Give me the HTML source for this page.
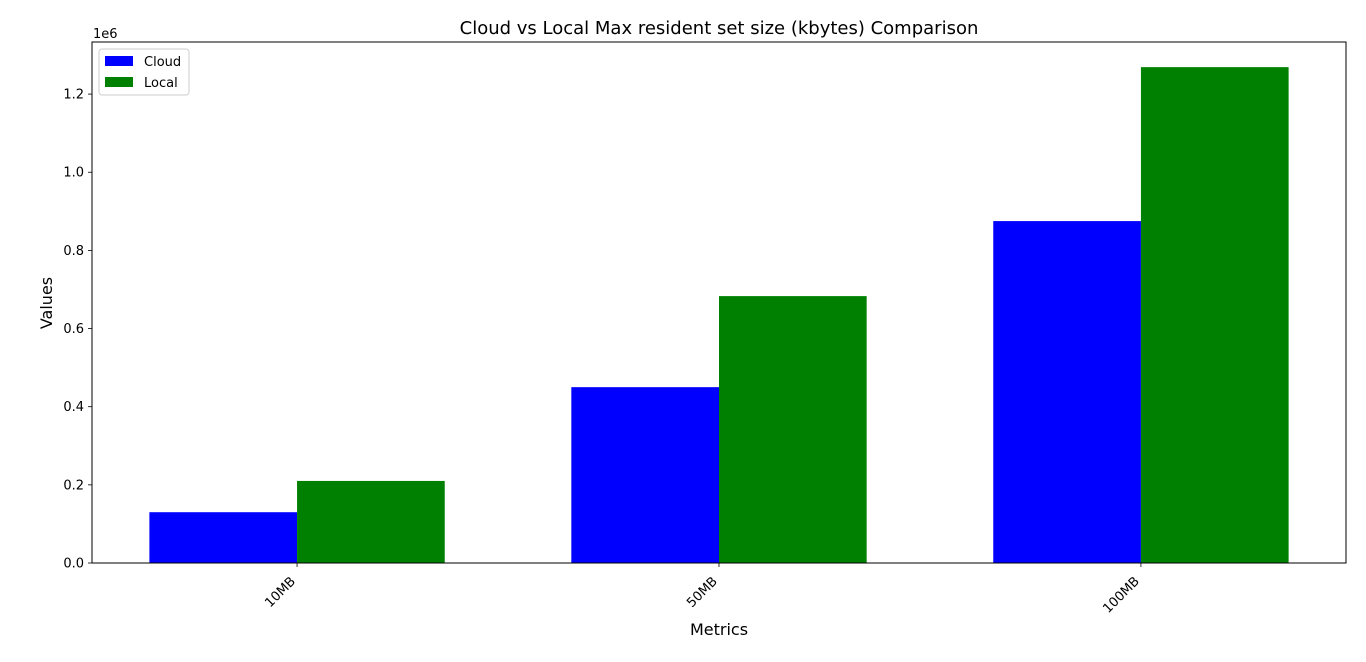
<!DOCTYPE html>
<html><head><meta charset="utf-8"><style>
html,body{margin:0;padding:0;background:#fff;width:1366px;height:662px;overflow:hidden}
text{font-family:"DejaVu Sans","Liberation Sans",sans-serif;fill:#000}
</style></head><body>
<svg id="chart" width="1366" height="662" xmlns="http://www.w3.org/2000/svg"></svg>
<script>
const categories = ["10MB","50MB","100MB"];
const cloudValues = [130000, 450000, 875000];
const localValues = [210000, 683000, 1269000];
const yTicks = [0, 0.2, 0.4, 0.6, 0.8, 1.0, 1.2];
const yTickLabels = ["0.0","0.2","0.4","0.6","0.8","1.0","1.2"];

const svg = document.getElementById('chart');
const NS = "http://www.w3.org/2000/svg";
const L=92,R=1346,T=42,B=563;
const yMax=1.3333e6, xMin=-0.486, xMax=2.486, bw=0.35;
function X(v){return L+(v-xMin)/(xMax-xMin)*(R-L);}
function Y(v){return B-v/yMax*(B-T);}
function mk(tag,attrs,parent){const e=document.createElementNS(NS,tag);for(const k in attrs)e.setAttribute(k,attrs[k]);(parent||svg).appendChild(e);return e;}

categories.forEach((c,i)=>{
  let r=mk('rect',{x:X(i-bw),y:Y(cloudValues[i]),width:X(i)-X(i-bw),height:B-Y(cloudValues[i]),fill:'#0000ff'});
  
  
  r=mk('rect',{x:X(i),y:Y(localValues[i]),width:X(i+bw)-X(i),height:B-Y(localValues[i]),fill:'#008000'});
  
  
  mk('line',{x1:X(i),x2:X(i),y1:B,y2:B+4,stroke:'#000','stroke-width':0.8});
  const t=mk('text',{x:0,y:0,'font-size':13,'text-anchor':'end',transform:`translate(${X(i)-1},${B+19}) rotate(-45)`});
  t.textContent=c;
  
  
});
yTicks.forEach((v,i)=>{
  const y=Y(v*1e6);
  mk('line',{x1:L-4,x2:L,y1:y,y2:y,stroke:'#000','stroke-width':0.8});
  const t=mk('text',{x:L-8,y:y+4.5,'font-size':13,'text-anchor':'end'});
  t.textContent=yTickLabels[i];
  
  
});
mk('rect',{x:L,y:T,width:R-L,height:B-T,fill:'none',stroke:'#000','stroke-width':1});
</script>
<svg style="position:absolute;left:0;top:0" width="1366" height="662" xmlns="http://www.w3.org/2000/svg">
<text x="719" y="34" font-size="18" text-anchor="middle">Cloud vs Local Max resident set size (kbytes) Comparison</text>
<text x="93" y="38" font-size="13">1e6</text>
<text x="719" y="635" font-size="16" text-anchor="middle">Metrics</text>
<text x="0" y="0" font-size="16" text-anchor="middle" transform="translate(52,303) rotate(-90)">Values</text>
<g>
<rect x="99" y="49" width="90" height="46" fill="#fff" stroke="#ccc" rx="3"/>
<rect x="105" y="56" width="28" height="10" fill="#0000ff"/>
<text x="144" y="66" font-size="13">Cloud</text>
<rect x="105" y="77" width="28" height="10" fill="#008000"/>
<text x="144" y="87" font-size="13">Local</text>
</g>
</svg>
</body></html>
